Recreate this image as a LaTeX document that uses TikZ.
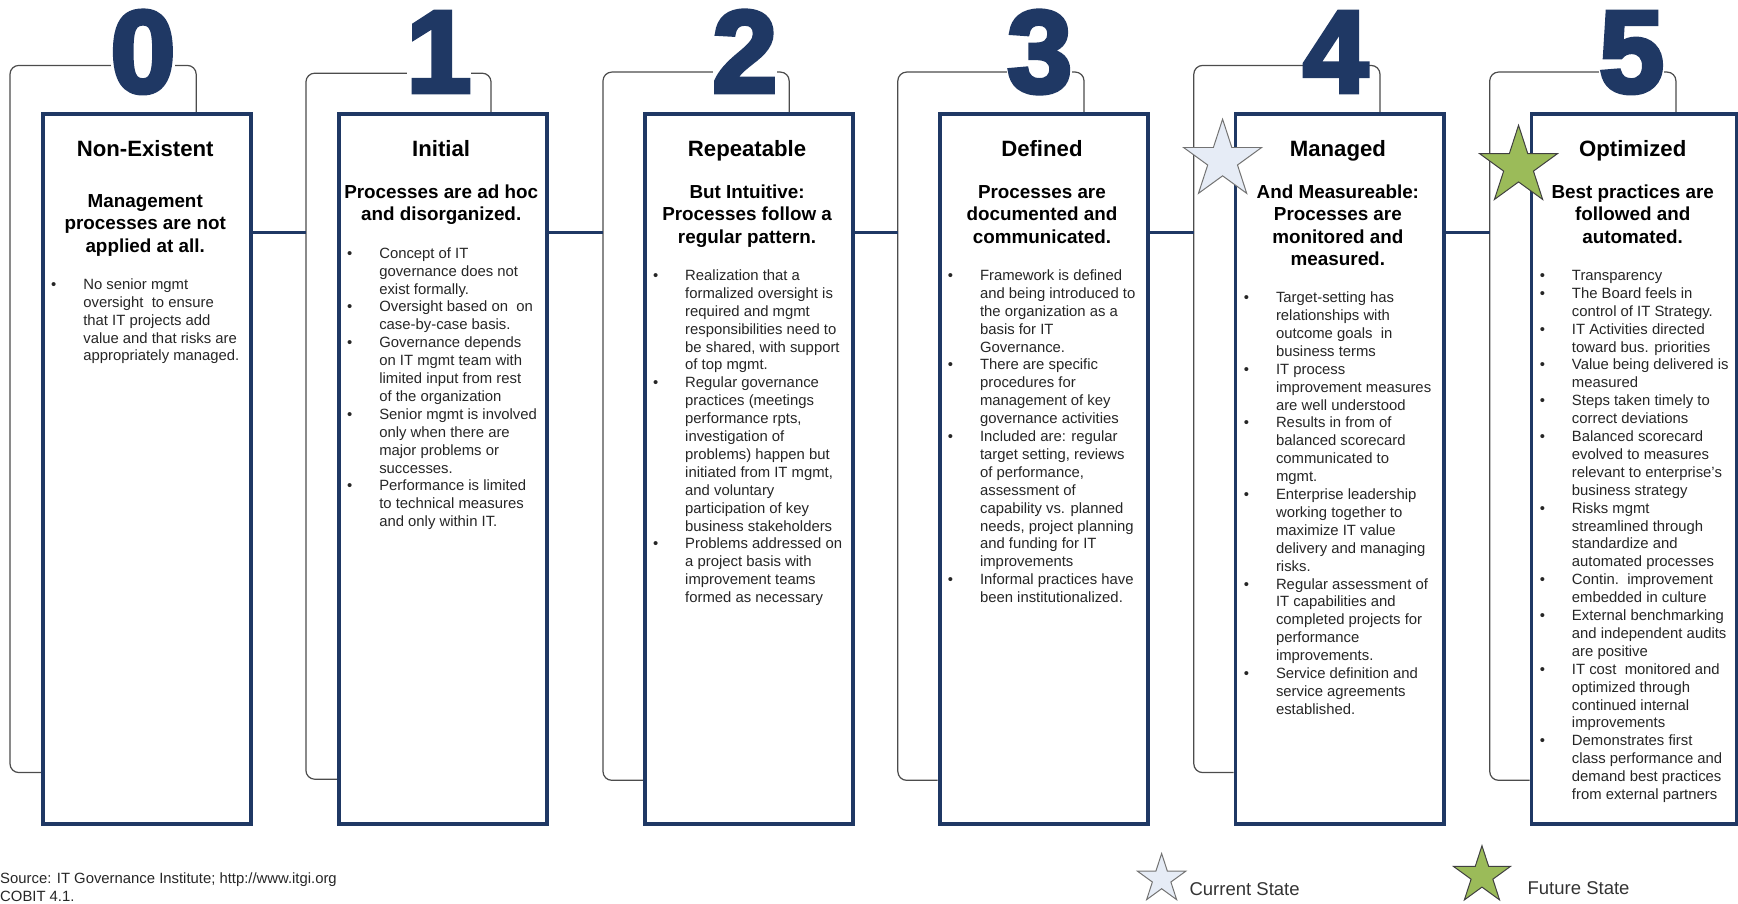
\documentclass[tikz,border=0pt]{standalone}
\usepackage{fontspec}
\setmainfont{Liberation Sans}
\newfontfamily\digitfont{Liberation Sans}[FakeBold=4]
\usetikzlibrary{calc}
\definecolor{navy}{RGB}{31,56,100}
\definecolor{curfill}{RGB}{230,236,246}
\definecolor{futfill}{RGB}{155,187,89}
\tikzset{
  bracketline/.style={draw=black!70, line width=1.1pt, rounded corners=8pt},
  stagebox/.style={draw=navy, line width=3.4pt, fill=white, minimum height=641pt, anchor=north west, inner sep=0pt},
  stagenum/.style={anchor=base, fill=white, inner sep=0pt, text depth=0pt, text=navy, font=\fontsize{105}{110}\selectfont\digitfont\bfseries},
  link/.style={draw=navy, line width=3pt},
  ttl/.style={anchor=base, inner sep=0pt, font=\fontsize{20}{24}\selectfont\bfseries},
  subt/.style={anchor=base, inner sep=0pt, font=\fontsize{17}{20.2}\selectfont\bfseries},
  blist/.style={anchor=base west, inner sep=0pt, text=black!85, font=\fontsize{13.4}{16.15}\selectfont},
  note/.style={anchor=base west, inner sep=0pt, text=black!85, font=\fontsize{13.4}{16}\selectfont},
  legendtext/.style={anchor=base west, inner sep=0pt, text=black!80, font=\fontsize{16.7}{20}\selectfont},
  curstar/.style={fill=curfill, draw=black!55, line width=0.9pt},
  futstar/.style={fill=futfill, draw=black!75, line width=0.9pt},
  pics/starmark/.style n args={2}{code={
    \draw[#2] (270:#1) -- (306:{0.382*#1}) -- (342:#1) -- (18:{0.382*#1}) -- (54:#1)
      -- (90:{0.382*#1}) -- (126:#1) -- (162:{0.382*#1}) -- (198:#1) -- (234:{0.382*#1}) -- cycle;}}
}
\begin{document}
\begin{tikzpicture}[x=1pt,y=-1pt]
\useasboundingbox (0,0) rectangle (1568,815);

% brackets behind the boxes
\foreach \i/\L/\bl/\br/\t/\bt in {0/37/9/177/59/697, 1/304/276/443/66/703, 2/580/544/712/65/704, 3/846/810/978/65/704, 4/1113/1077/1245/59/697, 5/1380/1344/1512/65/704} {
  \draw[bracketline] (\br,101) -- (\br,\t) -- (\bl,\t) -- (\bl,\bt) -- (\L,\bt);
  \coordinate (k\i) at (\bl,210);
  \node[stagenum] (d\i) at (\L+92,83) {\i};
}

% stage boxes
\foreach \i/\L/\w in {0/37/188, 1/304/188, 2/580/188, 3/846/188, 4/1113/188, 5/1380/185} {
  \node[stagebox, minimum width=\w pt] (b\i) at (\L,101) {};
}

% connectors
\draw[link] (b0.east |- k1) -- (k1);
\draw[link] (b1.east |- k2) -- (k2);
\draw[link] (b2.east |- k3) -- (k3);
\draw[link] (b3.east |- k4) -- (k4);
\draw[link] (b4.east |- k5) -- (k5);

% box 0
\node[ttl] (t0) at (131,141) {Non-Existent};
\node[subt] (s0) at (131,187) {\begin{tabular}[t]{@{}c@{}}Management\\processes are not\\applied at all.\end{tabular}};
\node[blist] (l0) at (46,261) {\begin{tabular}[t]{@{}p{29pt}@{}l@{}}
\textbullet & No senior mgmt\\
 & oversight\ \ to ensure\\
 & that IT projects add\\
 & value and that risks are\\
 & appropriately managed.
\end{tabular}};

% box 1
\node[ttl] (t1) at (398,141) {Initial};
\node[subt] (s1) at (398,179) {\begin{tabular}[t]{@{}c@{}}Processes are ad hoc\\and disorganized.\end{tabular}};
\node[blist] (l1) at (313,233) {\begin{tabular}[t]{@{}p{29pt}@{}l@{}}
\textbullet & Concept of IT\\
 & governance does not\\
 & exist formally.\\
\textbullet & Oversight based on\ \ on\\
 & case-by-case basis.\\
\textbullet & Governance depends\\
 & on IT mgmt team with\\
 & limited input from rest\\
 & of the organization\\
\textbullet & Senior mgmt is involved\\
 & only when there are\\
 & major problems or\\
 & successes.\\
\textbullet & Performance is limited\\
 & to technical measures\\
 & and only within IT.
\end{tabular}};

% box 2
\node[ttl] (t2) at (674,141) {Repeatable};
\node[subt] (s2) at (674,179) {\begin{tabular}[t]{@{}c@{}}But Intuitive:\\Processes follow a\\regular pattern.\end{tabular}};
\node[blist] (l2) at (589,253) {\begin{tabular}[t]{@{}p{29pt}@{}l@{}}
\textbullet & Realization that a\\
 & formalized oversight is\\
 & required and mgmt\\
 & responsibilities need to\\
 & be shared, with support\\
 & of top mgmt.\\
\textbullet & Regular governance\\
 & practices (meetings\\
 & performance rpts,\\
 & investigation of\\
 & problems) happen but\\
 & initiated from IT mgmt,\\
 & and voluntary\\
 & participation of key\\
 & business stakeholders\\
\textbullet & Problems addressed on\\
 & a project basis with\\
 & improvement teams\\
 & formed as necessary
\end{tabular}};

% box 3
\node[ttl] (t3) at (940,141) {Defined};
\node[subt] (s3) at (940,179) {\begin{tabular}[t]{@{}c@{}}Processes are\\documented and\\communicated.\end{tabular}};
\node[blist] (l3) at (855,253) {\begin{tabular}[t]{@{}p{29pt}@{}l@{}}
\textbullet & Framework is defined\\
 & and being introduced to\\
 & the organization as a\\
 & basis for IT\\
 & Governance.\\
\textbullet & There are specific\\
 & procedures for\\
 & management of key\\
 & governance activities\\
\textbullet & Included are: regular\\
 & target setting, reviews\\
 & of performance,\\
 & assessment of\\
 & capability vs. planned\\
 & needs, project planning\\
 & and funding for IT\\
 & improvements\\
\textbullet & Informal practices have\\
 & been institutionalized.
\end{tabular}};

% box 4
\node[ttl] (t4) at (1207,141) {Managed};
\node[subt] (s4) at (1207,179) {\begin{tabular}[t]{@{}c@{}}And Measureable:\\Processes are\\monitored and\\measured.\end{tabular}};
\node[blist] (l4) at (1122,273) {\begin{tabular}[t]{@{}p{29pt}@{}l@{}}
\textbullet & Target-setting has\\
 & relationships with\\
 & outcome goals\ \ in\\
 & business terms\\
\textbullet & IT process\\
 & improvement measures\\
 & are well understood\\
\textbullet & Results in from of\\
 & balanced scorecard\\
 & communicated to\\
 & mgmt.\\
\textbullet & Enterprise leadership\\
 & working together to\\
 & maximize IT value\\
 & delivery and managing\\
 & risks.\\
\textbullet & Regular assessment of\\
 & IT capabilities and\\
 & completed projects for\\
 & performance\\
 & improvements.\\
\textbullet & Service definition and\\
 & service agreements\\
 & established.
\end{tabular}};

% box 5
\node[ttl] (t5) at (1473,141) {Optimized};
\node[subt] (s5) at (1473,179) {\begin{tabular}[t]{@{}c@{}}Best practices are\\followed and\\automated.\end{tabular}};
\node[blist] (l5) at (1389,253) {\begin{tabular}[t]{@{}p{29pt}@{}l@{}}
\textbullet & Transparency\\
\textbullet & The Board feels in\\
 & control of IT Strategy.\\
\textbullet & IT Activities directed\\
 & toward bus. priorities\\
\textbullet & Value being delivered is\\
 & measured\\
\textbullet & Steps taken timely to\\
 & correct deviations\\
\textbullet & Balanced scorecard\\
 & evolved to measures\\
 & relevant to enterprise's\\
 & business strategy\\
\textbullet & Risks mgmt\\
 & streamlined through\\
 & standardize and\\
 & automated processes\\
\textbullet & Contin.\ \ improvement\\
 & embedded in culture\\
\textbullet & External benchmarking\\
 & and independent audits\\
 & are positive\\
\textbullet & IT cost\ \ monitored and\\
 & optimized through\\
 & continued internal\\
 & improvements\\
\textbullet & Demonstrates first\\
 & class performance and\\
 & demand best practices\\
 & from external partners
\end{tabular}};

% stars on the boxes
\pic at (1103,144.5) {starmark={37}{curstar}};
\pic at (1370,150) {starmark={37}{futstar}};

% footer
\node[note] (src) at (0,797) {Source: IT Governance Institute; http://www.itgi.org};
\node[note] (cob) at (0,813) {COBIT 4.1.};

% legend
\pic at (1048,793) {starmark={23}{curstar}};
\node[legendtext] (lcur) at (1073,808) {Current State};
\pic at (1337,790) {starmark={27}{futstar}};
\node[legendtext] (lfut) at (1378,807) {Future State};
\end{tikzpicture}
\end{document}
